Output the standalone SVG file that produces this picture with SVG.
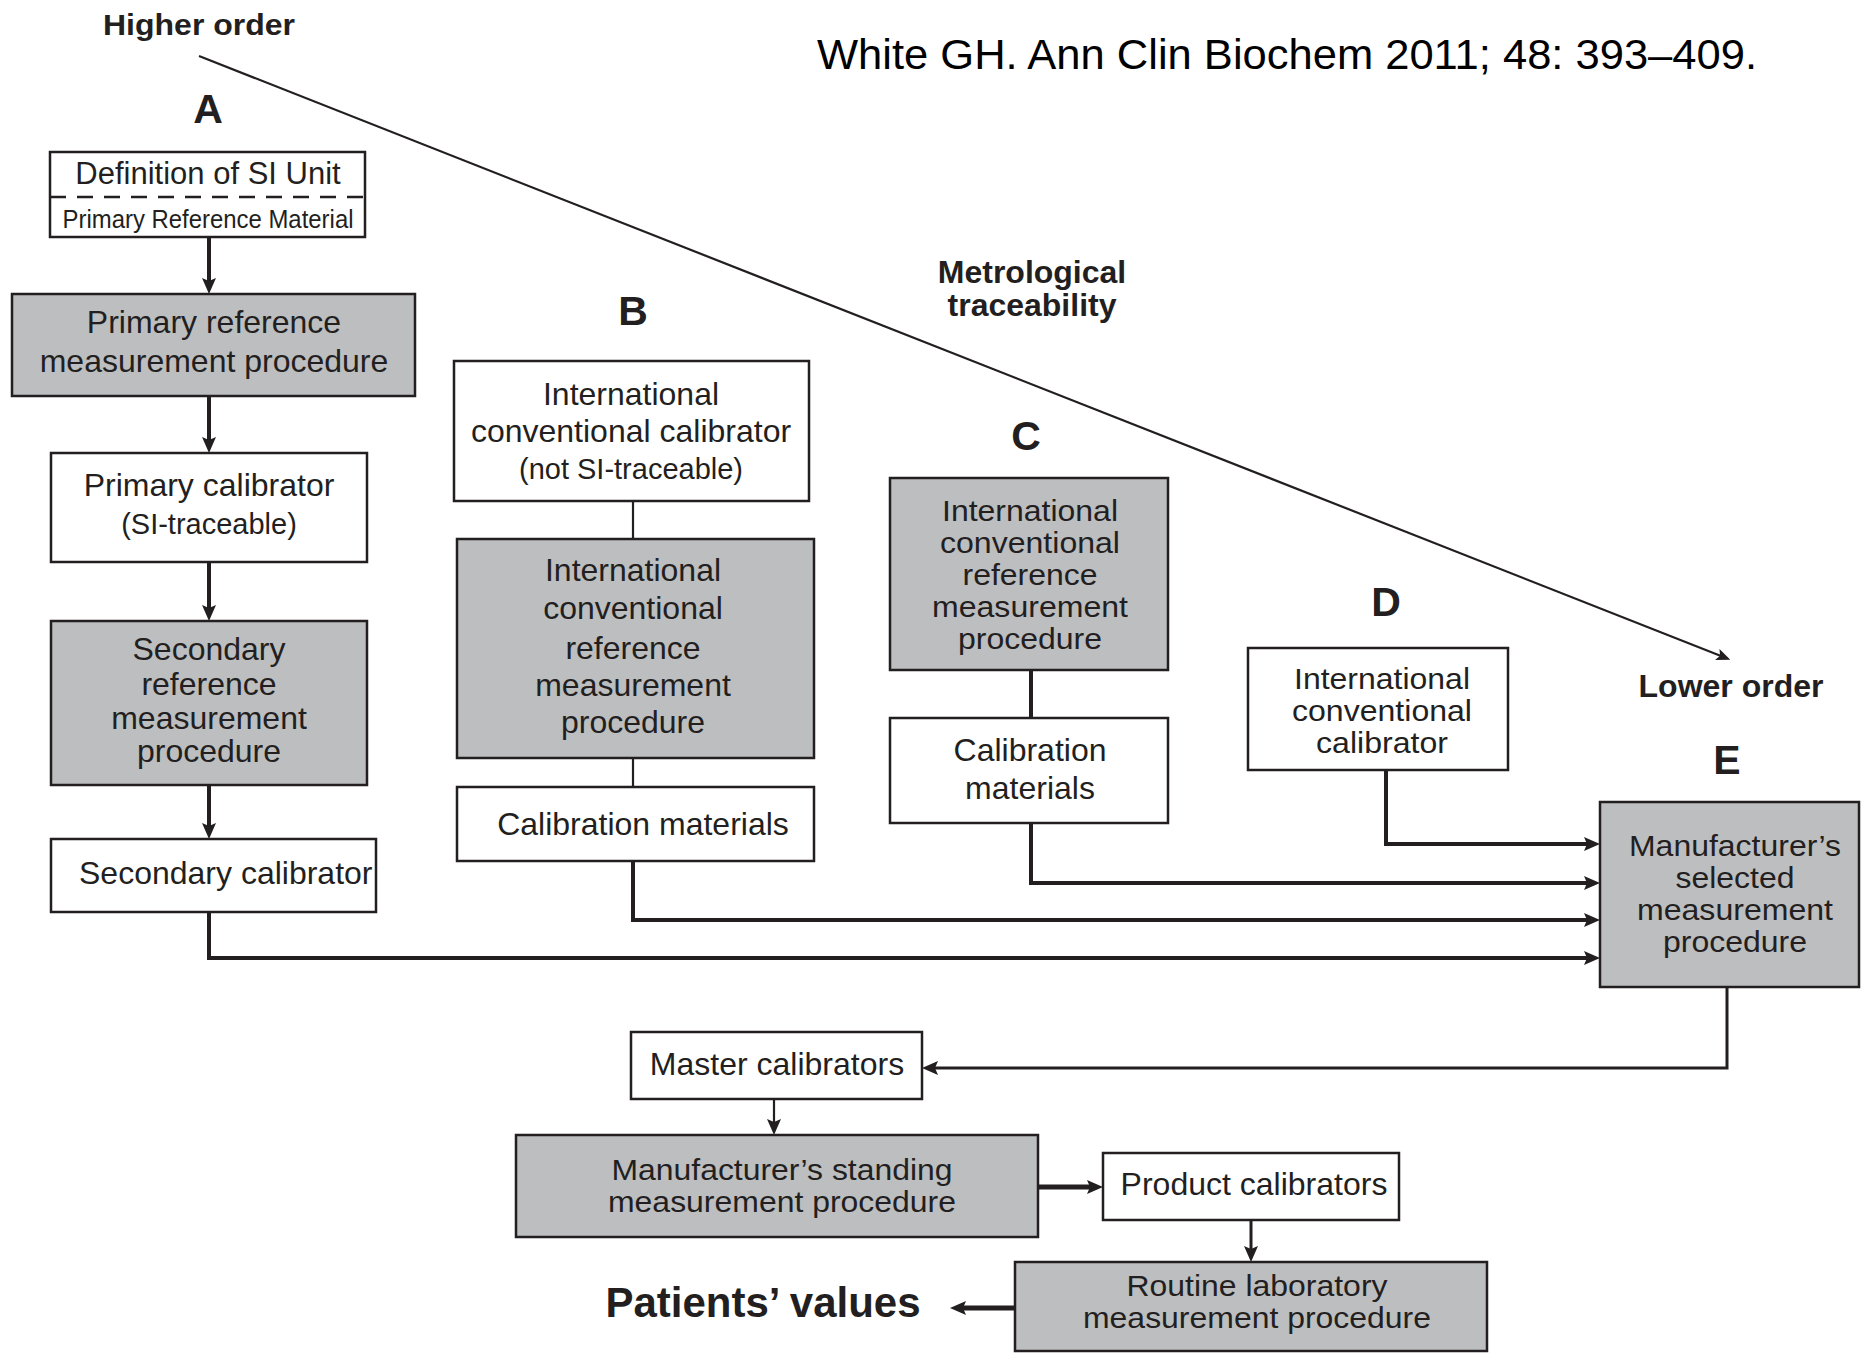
<svg xmlns="http://www.w3.org/2000/svg" width="1861" height="1353" viewBox="0 0 1861 1353">
<style>
.bx{stroke:#231f20;stroke-width:2.5}
.w{fill:#ffffff}
.g{fill:#bcbec0}
.t{font-family:"Liberation Sans",Arial,sans-serif;font-size:32px;fill:#231f20;text-anchor:middle}
.n{font-size:30px}
.s{font-size:29px}
.b{font-weight:bold}
.lbl{font-weight:bold;font-size:41px}
.c{fill:none;stroke:#231f20;stroke-width:4;stroke-linejoin:miter}
.thin{stroke-width:2.2}
</style>
<defs>
<marker id="ah" markerUnits="userSpaceOnUse" viewBox="0 0 16 14" markerWidth="16" markerHeight="14" refX="6" refY="7" orient="auto">
<path d="M0,0 L16,7 L0,14 L3,7 z" fill="#231f20"/>
</marker>
<marker id="ahs" markerUnits="userSpaceOnUse" viewBox="0 0 14 12" markerWidth="14" markerHeight="12" refX="4" refY="6" orient="auto">
<path d="M0,0 L14,6 L0,12 L3,6 z" fill="#231f20"/>
</marker>
</defs>
<rect width="1861" height="1353" fill="#ffffff"/>

<g id="labels">
<text class="t b" x="199" y="35" textLength="192" lengthAdjust="spacingAndGlyphs" style="font-size:30px">Higher order</text>
<text x="817" y="69" textLength="940" lengthAdjust="spacingAndGlyphs" style="font-family:'Liberation Sans',Arial,sans-serif;font-size:42px;fill:#000">White GH. Ann Clin Biochem 2011; 48: 393–409.</text>
<text class="t b" x="1032" y="283">Metrological<tspan x="1032" y="316">traceability</tspan></text>
<text class="t b" x="1731" y="697">Lower order</text>
<text class="t lbl" x="208" y="123">A</text>
<text class="t lbl" x="633" y="325">B</text>
<text class="t lbl" x="1026" y="450">C</text>
<text class="t lbl" x="1386" y="616">D</text>
<text class="t lbl" x="1727" y="774">E</text>
<text class="t b" x="763" y="1317" style="font-size:42px">Patients’ values</text>
</g>

<g id="connectors">
<line class="c thin" x1="199" y1="56" x2="1721" y2="656" marker-end="url(#ahs)"/>
<line class="c" x1="209" y1="237" x2="209" y2="284" marker-end="url(#ah)"/>
<line class="c" x1="209" y1="396" x2="209" y2="443" marker-end="url(#ah)"/>
<line class="c" x1="209" y1="562" x2="209" y2="611" marker-end="url(#ah)"/>
<line class="c" x1="209" y1="785" x2="209" y2="829" marker-end="url(#ah)"/>
<polyline class="c" points="209,912 209,958 1590,958" marker-end="url(#ah)"/>
<line class="c thin" x1="633" y1="501" x2="633" y2="539"/>
<line class="c thin" x1="633" y1="758" x2="633" y2="787"/>
<polyline class="c" points="633,861 633,920 1590,920" marker-end="url(#ah)"/>
<line class="c" x1="1031" y1="670" x2="1031" y2="718"/>
<polyline class="c" points="1031,823 1031,883 1590,883" marker-end="url(#ah)"/>
<polyline class="c" points="1386,770 1386,844 1590,844" marker-end="url(#ah)"/>
<polyline class="c" style="stroke-width:3" points="1727,987 1727,1068 932,1068" marker-end="url(#ah)"/>
<line class="c thin" x1="774" y1="1099" x2="774" y2="1125" marker-end="url(#ah)"/>
<line class="c" style="stroke-width:5" x1="1038" y1="1187" x2="1093" y2="1187" marker-end="url(#ah)"/>
<line class="c" style="stroke-width:3" x1="1251" y1="1220" x2="1251" y2="1252" marker-end="url(#ah)"/>
<line class="c" style="stroke-width:5" x1="1015" y1="1308" x2="960" y2="1308" marker-end="url(#ah)"/>
</g>

<g id="node-si-definition">
<rect class="bx w" x="50" y="152" width="315" height="85"/>
<line x1="50" y1="197" x2="365" y2="197" stroke="#231f20" stroke-width="2.5" stroke-dasharray="16 11"/>
<text class="t" x="208" y="184" style="font-size:31px">Definition of SI Unit</text>
<text class="t" x="208" y="228" textLength="291" lengthAdjust="spacingAndGlyphs" style="font-size:25px">Primary Reference Material</text>
</g>

<g id="node-primary-ref-proc">
<rect class="bx g" x="12" y="294" width="403" height="102"/>
<text class="t" x="214" y="333">Primary reference<tspan x="214" y="372">measurement procedure</tspan></text>
</g>

<g id="node-primary-calibrator">
<rect class="bx w" x="51" y="453" width="316" height="109"/>
<text class="t" x="209" y="496">Primary calibrator<tspan class="s" x="209" y="534">(SI-traceable)</tspan></text>
</g>

<g id="node-secondary-ref-proc">
<rect class="bx g" x="51" y="621" width="316" height="164"/>
<text class="t" x="209" y="660">Secondary<tspan x="209" y="695">reference</tspan><tspan x="209" y="729">measurement</tspan><tspan x="209" y="762">procedure</tspan></text>
</g>

<g id="node-secondary-calibrator">
<rect class="bx w" x="51" y="839" width="325" height="73"/>
<text class="t" x="79" y="884" style="text-anchor:start">Secondary calibrator</text>
</g>

<g id="node-b-calibrator">
<rect class="bx w" x="454" y="361" width="355" height="140"/>
<text class="t" x="631" y="405">International<tspan x="631" y="442">conventional calibrator</tspan><tspan class="s" x="631" y="479">(not SI-traceable)</tspan></text>
</g>

<g id="node-b-ref-proc">
<rect class="bx g" x="457" y="539" width="357" height="219"/>
<text class="t" x="633" y="581">International<tspan x="633" y="619">conventional</tspan><tspan x="633" y="659">reference</tspan><tspan x="633" y="696">measurement</tspan><tspan x="633" y="733">procedure</tspan></text>
</g>

<g id="node-b-cal-materials">
<rect class="bx w" x="457" y="787" width="357" height="74"/>
<text class="t" x="643" y="835">Calibration materials</text>
</g>

<g id="node-c-ref-proc">
<rect class="bx g" x="890" y="478" width="278" height="192"/>
<text class="t n" x="1030" y="521" textLength="176" lengthAdjust="spacingAndGlyphs">International</text>
<text class="t n" x="1030" y="553" textLength="180" lengthAdjust="spacingAndGlyphs">conventional</text>
<text class="t n" x="1030" y="585" textLength="135" lengthAdjust="spacingAndGlyphs">reference</text>
<text class="t n" x="1030" y="617" textLength="196" lengthAdjust="spacingAndGlyphs">measurement</text>
<text class="t n" x="1030" y="649" textLength="144" lengthAdjust="spacingAndGlyphs">procedure</text>
</g>

<g id="node-c-cal-materials">
<rect class="bx w" x="890" y="718" width="278" height="105"/>
<text class="t" x="1030" y="761">Calibration<tspan x="1030" y="799">materials</tspan></text>
</g>

<g id="node-d-calibrator">
<rect class="bx w" x="1248" y="648" width="260" height="122"/>
<text class="t n" x="1382" y="689" textLength="176" lengthAdjust="spacingAndGlyphs">International</text>
<text class="t n" x="1382" y="721" textLength="180" lengthAdjust="spacingAndGlyphs">conventional</text>
<text class="t n" x="1382" y="753" textLength="132" lengthAdjust="spacingAndGlyphs">calibrator</text>
</g>

<g id="node-e-selected-proc">
<rect class="bx g" x="1600" y="802" width="259" height="185"/>
<text class="t n" x="1735" y="856" textLength="212" lengthAdjust="spacingAndGlyphs">Manufacturer’s</text>
<text class="t n" x="1735" y="888" textLength="119" lengthAdjust="spacingAndGlyphs">selected</text>
<text class="t n" x="1735" y="920" textLength="196" lengthAdjust="spacingAndGlyphs">measurement</text>
<text class="t n" x="1735" y="952" textLength="144" lengthAdjust="spacingAndGlyphs">procedure</text>
</g>

<g id="node-master-calibrators">
<rect class="bx w" x="631" y="1032" width="291" height="67"/>
<text class="t" x="777" y="1075">Master calibrators</text>
</g>

<g id="node-standing-proc">
<rect class="bx g" x="516" y="1135" width="522" height="102"/>
<text class="t n" x="782" y="1180" textLength="341" lengthAdjust="spacingAndGlyphs">Manufacturer’s standing</text>
<text class="t n" x="782" y="1212" textLength="348" lengthAdjust="spacingAndGlyphs">measurement procedure</text>
</g>

<g id="node-product-calibrators">
<rect class="bx w" x="1103" y="1153" width="296" height="67"/>
<text class="t" x="1254" y="1195">Product calibrators</text>
</g>

<g id="node-routine-proc">
<rect class="bx g" x="1015" y="1262" width="472" height="89"/>
<text class="t n" x="1257" y="1296" textLength="261" lengthAdjust="spacingAndGlyphs">Routine laboratory</text>
<text class="t n" x="1257" y="1328" textLength="348" lengthAdjust="spacingAndGlyphs">measurement procedure</text>
</g>
</svg>
